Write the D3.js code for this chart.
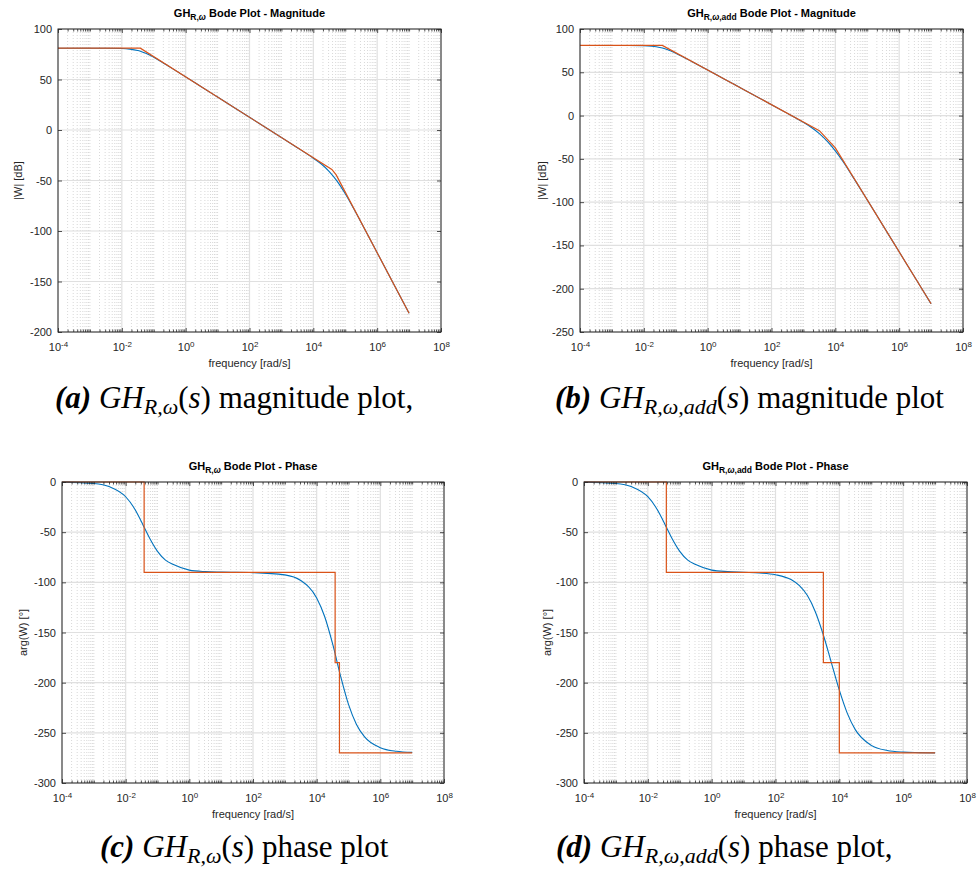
<!DOCTYPE html>
<html>
<head>
<meta charset="utf-8">
<script src="https://cdn.jsdelivr.net/npm/d3@7"></script>
<style>
  body { margin: 0; background: #fff; }
  svg { display: block; }
  .tick text { font-family: "Liberation Sans", Arial, sans-serif; font-size: 11px; fill: #262626; }
</style>
</head>
<body>
<svg id="fig" width="978" height="873"></svg>
<script>
// Bode plots of GH_{R,w} and GH_{R,w,add}: blue = exact, orange = asymptotes.

const X_DOMAIN = [1e-4, 1e8];
const X_TICKS = [1e-4, 1e-2, 1, 1e2, 1e4, 1e6, 1e8];
const X_TICK_EXP = ["-4", "-2", "0", "2", "4", "6", "8"];
const MAG_A_TICKS = [-200, -150, -100, -50, 0, 50, 100];
const MAG_B_TICKS = [-250, -200, -150, -100, -50, 0, 50, 100];
const PHASE_TICKS = [-300, -250, -200, -150, -100, -50, 0];

// exact response, GH_{R,w}
const FREQ_A = [1e-4, 1e-3, 3.16e-3, 1e-2, 1.78e-2, 3.16e-2, 3.8e-2, 5.62e-2, 0.1,
  0.178, 0.316, 1, 3.16, 10, 100, 1e3, 3.16e3, 1e4, 1.78e4, 3.16e4, 5.62e4, 1e5,
  1.78e5, 3.16e5, 1e6, 3.16e6, 1e7];
const MAG_A = [81, 81, 80.97, 80.7, 80.1, 78.7, 78.0, 76.0, 72.0,
  67.4, 62.5, 52.6, 42.6, 32.6, 12.6, -7.4, -17.5, -27.9, -33.7, -41.1, -50.8, -63.1,
  -77.0, -91.6, -121.5, -151.5, -181.5];
const PHASE_A = [-0.15, -1.5, -4.8, -14.7, -25.1, -39.8, -45, -55.9, -69.2,
  -77.9, -82.3, -87.8, -89.3, -89.8, -90.3, -92.6, -98.2, -115.6, -134, -161.1, -193.2, -221.7,
  -241.6, -253.8, -264.8, -268.4, -269.5];

// asymptotes, GH_{R,w}
const ASYM_FREQ_A = [1e-4, 0.038, 3.8e4, 5.2e4, 1e7];
const ASYM_MAG_A = [81, 81, -39, -44.5, -181.5];
const ASYM_PHASE_A = [0, -90, -180, -270, -270];

// exact response, GH_{R,w,add}
const FREQ_B = [1e-4, 1e-3, 3.16e-3, 1e-2, 1.78e-2, 3.16e-2, 3.8e-2, 5.62e-2, 0.1,
  0.178, 0.316, 1, 3.16, 10, 31.6, 100, 316, 562, 1e3, 1.78e3, 3.16e3, 5.62e3, 1e4,
  1.78e4, 3.16e4, 1e5, 3.16e5, 1e6, 3.16e6, 1e7];
const MAG_B = [81, 81, 80.97, 80.7, 80.1, 78.7, 78.0, 76.0, 72.0,
  67.4, 62.5, 52.6, 42.6, 32.6, 22.6, 12.55, 2.55, -2.55, -7.85, -13.7, -20.8, -29.8, -40.8,
  -53.7, -67.9, -97.4, -127.4, -157.4, -187.4, -217.4];
const PHASE_B = [-0.15, -1.5, -4.8, -14.7, -25.1, -39.8, -45, -55.9, -69.2,
  -77.9, -82.3, -87.8, -89.3, -90.0, -90.7, -92.4, -97.5, -103.3, -113.2, -129.5, -152.5, -180, -207.5,
  -230.6, -246.8, -262.5, -267.6, -269.2, -269.7, -270];

// asymptotes, GH_{R,w,add}
const ASYM_FREQ_B = [1e-4, 0.038, 3.16e3, 1e4, 1e7];
const ASYM_MAG_B = [81, 81, -17.4, -37.4, -217.4];
const ASYM_PHASE_B = [0, -90, -180, -270, -270];

const BLUE = "#0072bd", ORANGE = "#d95319";
const FONT = '"Liberation Sans", Arial, sans-serif';
const SERIF = '"Liberation Serif", "Times New Roman", serif';

const svg = d3.select("#fig");
svg.append("rect").attr("width", 978).attr("height", 873).attr("fill", "#fff");

// minor x positions: 2..9 of each decade plus the unlabeled decades
const X_MINOR = [];
for (let n = -4; n < 8; n++) {
  for (let k = 1; k <= 9; k++) {
    const v = +(k * Math.pow(10, n)).toPrecision(3);
    if (!X_TICKS.includes(v)) X_MINOR.push(v);
  }
}

function drawPanel(p) {
  const x = d3.scaleLog().domain(X_DOMAIN).range([p.left, p.right]);
  const y = d3.scaleLinear().domain(p.yDomain).range([p.bottom, p.top]);
  const g = svg.append("g");
  const H = p.bottom - p.top, W = p.right - p.left;

  // grid
  g.append("g").selectAll("line").data(X_MINOR).join("line")
    .attr("x1", (d) => x(d)).attr("x2", (d) => x(d))
    .attr("y1", p.top).attr("y2", p.bottom)
    .attr("stroke", "#bdbdbd").attr("stroke-width", 0.6)
    .attr("stroke-dasharray", "1,2");
  g.append("g").selectAll("line").data(X_TICKS).join("line")
    .attr("x1", (d) => x(d)).attr("x2", (d) => x(d))
    .attr("y1", p.top).attr("y2", p.bottom)
    .attr("stroke", "#e0e0e0").attr("stroke-width", 1.2);
  g.append("g").selectAll("line").data(p.yTicks).join("line")
    .attr("x1", p.left).attr("x2", p.right)
    .attr("y1", (d) => y(d)).attr("y2", (d) => y(d))
    .attr("stroke", "#e0e0e0").attr("stroke-width", 1.2);

  // curves
  const exact = p.freq.map((f, i) => [f, p.exact[i]]);
  const asym = p.asymFreq.map((f, i) => [f, p.asym[i]]);
  g.append("path").datum(exact)
    .attr("d", d3.line().x((d) => x(d[0])).y((d) => y(d[1])).curve(d3.curveMonotoneX))
    .attr("fill", "none").attr("stroke", BLUE).attr("stroke-width", 1.1);
  g.append("path").datum(asym)
    .attr("d", d3.line().x((d) => x(d[0])).y((d) => y(d[1]))
      .curve(p.step ? d3.curveStepAfter : d3.curveLinear))
    .attr("fill", "none").attr("stroke", ORANGE).attr("stroke-width", 1.2);

  // axes (ticks point inward, MATLAB style)
  const xb = g.append("g").attr("transform", `translate(0,${p.bottom})`)
    .call(d3.axisBottom(x).tickValues(X_TICKS).tickSizeInner(-4).tickSizeOuter(0)
      .tickPadding(11).tickFormat(() => ""));
  xb.selectAll(".tick text").each(function (d, i) {
    const t = d3.select(this).attr("dy", "0.71em");
    t.append("tspan").text("10");
    t.append("tspan").attr("dy", "-0.45em").style("font-size", "8px").text(X_TICK_EXP[i]);
  });
  g.append("g").attr("transform", `translate(0,${p.bottom})`)
    .call(d3.axisBottom(x).tickValues(X_MINOR).tickSize(-2.5).tickFormat(() => ""));
  g.append("g").attr("transform", `translate(0,${p.top})`)
    .call(d3.axisTop(x).tickValues(X_TICKS).tickSize(-4).tickFormat(() => ""));
  g.append("g").attr("transform", `translate(0,${p.top})`)
    .call(d3.axisTop(x).tickValues(X_MINOR).tickSize(-2.5).tickFormat(() => ""));
  g.append("g").attr("transform", `translate(${p.left},0)`)
    .call(d3.axisLeft(y).tickValues(p.yTicks).tickSizeInner(-4).tickSizeOuter(0)
      .tickPadding(6).tickFormat((d) => String(d)));
  g.append("g").attr("transform", `translate(${p.right},0)`)
    .call(d3.axisRight(y).tickValues(p.yTicks).tickSize(-4).tickFormat(() => ""));
  g.selectAll(".domain").remove();
  g.selectAll(".tick line").attr("stroke", "#262626").attr("stroke-width", 0.8);

  g.append("rect").attr("x", p.left).attr("y", p.top).attr("width", W).attr("height", H)
    .attr("fill", "none").attr("stroke", "#262626").attr("stroke-width", 1);

  // title
  const title = g.append("text").attr("x", (p.left + p.right) / 2).attr("y", p.top - 12)
    .attr("text-anchor", "middle").style("font-family", FONT)
    .style("font-size", "11px").style("font-weight", "bold").attr("fill", "#000");
  title.append("tspan").text("GH");
  const sub = title.append("tspan").attr("dy", "3").style("font-size", "8.5px");
  sub.append("tspan").text("R,");
  sub.append("tspan").style("font-style", "italic").text("ω");
  if (p.add) sub.append("tspan").text(",add");
  title.append("tspan").attr("dy", "-3").text(" Bode Plot - " + p.kind);

  // axis labels
  g.append("text").attr("x", (p.left + p.right) / 2).attr("y", p.bottom + 35)
    .attr("text-anchor", "middle").style("font-family", FONT).style("font-size", "11px")
    .attr("fill", "#262626").text("frequency [rad/s]");
  g.append("text")
    .attr("transform", `translate(${p.ylabelX},${(p.top + p.bottom) / 2}) rotate(-90)`)
    .attr("text-anchor", "middle").style("font-family", FONT).style("font-size", "11px")
    .attr("fill", "#262626").text(p.ylabel);
}

function caption(cx, cy, letter, add, rest) {
  const t = svg.append("text").attr("x", cx).attr("y", cy)
    .style("font-family", SERIF).style("font-size", "31px").attr("fill", "#000");
  t.append("tspan").style("font-weight", "bold").style("font-style", "italic").text(`(${letter})`);
  t.append("tspan").text(" ");
  t.append("tspan").style("font-style", "italic").text("GH");
  t.append("tspan").attr("dy", 6).style("font-style", "italic").style("font-size", "22px")
    .text(add ? "R,ω,add" : "R,ω");
  t.append("tspan").attr("dy", -6).text("(");
  t.append("tspan").style("font-style", "italic").text("s");
  t.append("tspan").text(")" + rest);
}

drawPanel({ left: 58, right: 441, top: 29, bottom: 332, yDomain: [-200, 100],
  yTicks: MAG_A_TICKS, kind: "Magnitude", add: false, ylabel: "|W| [dB]", ylabelX: 22,
  freq: FREQ_A, exact: MAG_A, asymFreq: ASYM_FREQ_A, asym: ASYM_MAG_A, step: false });
drawPanel({ left: 580, right: 963, top: 29, bottom: 332, yDomain: [-250, 100],
  yTicks: MAG_B_TICKS, kind: "Magnitude", add: true, ylabel: "|W| [dB]", ylabelX: 546,
  freq: FREQ_B, exact: MAG_B, asymFreq: ASYM_FREQ_B, asym: ASYM_MAG_B, step: false });
drawPanel({ left: 62, right: 444, top: 482, bottom: 783, yDomain: [-300, 0],
  yTicks: PHASE_TICKS, kind: "Phase", add: false, ylabel: "arg(W) [°]", ylabelX: 27,
  freq: FREQ_A, exact: PHASE_A, asymFreq: ASYM_FREQ_A, asym: ASYM_PHASE_A, step: true });
drawPanel({ left: 584, right: 967, top: 482, bottom: 783, yDomain: [-300, 0],
  yTicks: PHASE_TICKS, kind: "Phase", add: true, ylabel: "arg(W) [°]", ylabelX: 551,
  freq: FREQ_B, exact: PHASE_B, asymFreq: ASYM_FREQ_B, asym: ASYM_PHASE_B, step: true });

caption(55, 408, "a", false, " magnitude plot,");
caption(555, 408, "b", true, " magnitude plot");
caption(100, 857, "c", false, " phase plot");
caption(556, 857, "d", true, " phase plot,");
</script>
</body>
</html>
